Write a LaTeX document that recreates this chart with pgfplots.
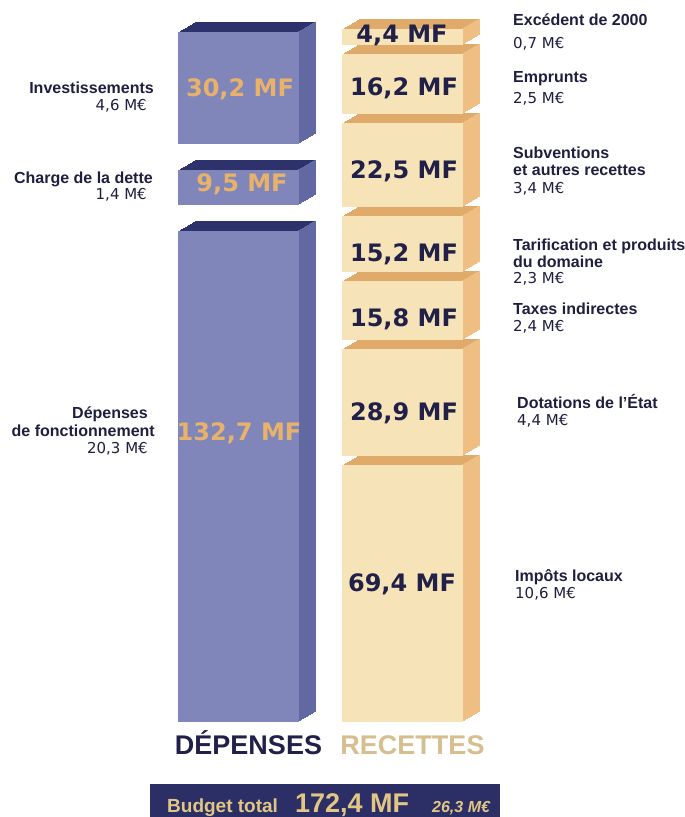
\documentclass[border=0pt]{standalone}
\usepackage{fontspec}
\usepackage{pgfplots}
\pgfplotsset{compat=1.18}
\setmainfont{Liberation Sans}
\newfontfamily\dejavu{DejaVu Sans}

\definecolor{depFront}{RGB}{128,134,186}
\definecolor{depTop}{RGB}{46,50,108}
\definecolor{depSide}{RGB}{98,104,162}
\definecolor{depValue}{RGB}{232,178,106}
\definecolor{recFront}{RGB}{246,228,184}
\definecolor{recTop}{RGB}{224,170,106}
\definecolor{recSide}{RGB}{238,190,130}
\definecolor{navy}{RGB}{32,32,72}
\definecolor{labtxt}{RGB}{30,30,62}
\definecolor{recLabel}{RGB}{214,190,142}
\definecolor{banner}{RGB}{44,46,102}
\definecolor{bannerTxt}{RGB}{226,198,132}

\pgfplotsset{
  budget/.style={
    scale only axis, width=685pt, height=703pt,
    anchor=south west,
    xmin=-1.4543, xmax=2.7226, ymin=0, ymax=190,
    ybar stacked, bar width=121pt,
    axis line style={draw=none}, ytick=\empty, xtick=\empty,
    major tick length=0pt,
    clip=false,
    spacer/.style={draw=none, fill=none},
  },
}

% values in MF, stacked bottom to top; "spacer" = empty gap between blocks
\newcommand\budgetstack{%
  % DEPENSES
  \addplot[depblock] coordinates {(0,132.7) (1,0)};  % Depenses de fonctionnement
  \addplot[spacer]   coordinates {(0,7.0) (1,0)};
  \addplot[depblock] coordinates {(0,9.5) (1,0)};    % Charge de la dette
  \addplot[spacer]   coordinates {(0,7.0) (1,0)};
  \addplot[depblock] coordinates {(0,30.2) (1,0)};   % Investissements
  % RECETTES
  \addplot[recblock] coordinates {(0,0) (1,69.4)};   % Impots locaux
  \addplot[spacer]   coordinates {(0,0) (1,2.5)};
  \addplot[recblock] coordinates {(0,0) (1,28.9)};   % Dotations de l'Etat
  \addplot[spacer]   coordinates {(0,0) (1,2.5)};
  \addplot[recblock] coordinates {(0,0) (1,15.8)};   % Taxes indirectes
  \addplot[spacer]   coordinates {(0,0) (1,2.5)};
  \addplot[recblock] coordinates {(0,0) (1,15.2)};   % Tarification
  \addplot[spacer]   coordinates {(0,0) (1,2.5)};
  \addplot[recblock] coordinates {(0,0) (1,22.5)};   % Subventions
  \addplot[spacer]   coordinates {(0,0) (1,2.5)};
  \addplot[recblock] coordinates {(0,0) (1,16.2)};   % Emprunts
  \addplot[spacer]   coordinates {(0,0) (1,2.5)};
  \addplot[recblock] coordinates {(0,0) (1,4.4)};    % Excedent de 2000
}

\begin{document}
\begin{tikzpicture}
\useasboundingbox (0pt,0pt) rectangle (685pt,817pt);

% 3D faces: copies shifted back, from back to front
\foreach \k in {10,9,...,1}{
  \pgfmathsetmacro\sx{17*\k/10}
  \pgfmathsetmacro\ay{95+10*\k/10}
  \pgfmathsetmacro\ss{60.5+\sx-1.15}
  \begin{axis}[budget, at={(0pt,\ay pt)},
     depblock/.style={fill=depTop, draw=none, /pgf/bar shift=\sx pt, /pgf/bar width=121pt},
     recblock/.style={fill=recTop, draw=none, /pgf/bar shift=\sx pt, /pgf/bar width=121pt}]
    \budgetstack
  \end{axis}
  \begin{axis}[budget, at={(0pt,\ay pt)},
     depblock/.style={fill=depSide, draw=none, /pgf/bar shift=\ss pt, /pgf/bar width=2.3pt},
     recblock/.style={fill=recSide, draw=none, /pgf/bar shift=\ss pt, /pgf/bar width=2.3pt}]
    \budgetstack
  \end{axis}
}

% front faces
\begin{axis}[budget, at={(0pt,95pt)},
   depblock/.style={fill=depFront, draw=none, /pgf/bar shift=0pt},
   recblock/.style={fill=recFront, draw=none, /pgf/bar shift=0pt},
   xtick={0,1},
   xticklabels={\textcolor{navy}{DÉPENSES},\textcolor{recLabel}{RECETTES}},
   xticklabel style={anchor=base, yshift=-33pt, xshift=10pt,
     font=\fontsize{27}{30}\selectfont\bfseries}]
  \budgetstack
\end{axis}

\tikzset{
  lab/.style={inner sep=0pt, font=\fontsize{16}{18}\selectfont\bfseries, text=labtxt},
  eur/.style={inner sep=0pt, font=\dejavu\fontsize{15}{17}\selectfont, text=labtxt},
  vald/.style={inner sep=0pt, anchor=base, font=\dejavu\fontsize{24}{26}\selectfont\bfseries, text=depValue},
  valr/.style={inner sep=0pt, anchor=base, font=\dejavu\fontsize{24}{26}\selectfont\bfseries, text=navy},
}

% left labels
\node[lab, anchor=base east] at (154pt,723pt) {Investissements};
\node[eur, anchor=base east] at (147pt,706pt) {4,6 M€};
\node[lab, anchor=base east] at (153pt,633pt) {Charge de la dette};
\node[eur, anchor=base east] at (147pt,617pt) {1,4 M€};
\node[lab, anchor=base east] at (148pt,398pt) {Dépenses};
\node[lab, anchor=base east] at (155pt,380pt) {de fonctionnement};
\node[eur, anchor=base east] at (148pt,363pt) {20,3 M€};

% right labels
\node[lab, anchor=base west] at (513pt,791pt) {Excédent de 2000};
\node[eur, anchor=base west] at (513pt,768pt) {0,7 M€};
\node[lab, anchor=base west] at (513pt,734pt) {Emprunts};
\node[eur, anchor=base west] at (513pt,713pt) {2,5 M€};
\node[lab, anchor=base west] at (513pt,658pt) {Subventions};
\node[lab, anchor=base west] at (513pt,641pt) {et autres recettes};
\node[eur, anchor=base west] at (513pt,623pt) {3,4 M€};
\node[lab, anchor=base west] at (513pt,566pt) {Tarification et produits};
\node[lab, anchor=base west] at (513pt,549pt) {du domaine};
\node[eur, anchor=base west] at (513pt,533pt) {2,3 M€};
\node[lab, anchor=base west] at (513pt,502pt) {Taxes indirectes};
\node[eur, anchor=base west] at (513pt,485pt) {2,4 M€};
\node[lab, anchor=base west] at (517pt,408pt) {Dotations de l'État};
\node[eur, anchor=base west] at (517pt,391pt) {4,4 M€};
\node[lab, anchor=base west] at (515pt,235pt) {Impôts locaux};
\node[eur, anchor=base west] at (515pt,218pt) {10,6 M€};

% values inside blocks
\node[vald] at (240pt,720pt) {30,2 MF};
\node[vald] at (242pt,625pt) {9,5 MF};
\node[vald] at (239pt,376pt) {132,7 MF};
\node[valr] at (402pt,774pt) {4,4 MF};
\node[valr] at (404pt,721pt) {16,2 MF};
\node[valr] at (404pt,638pt) {22,5 MF};
\node[valr] at (404pt,555pt) {15,2 MF};
\node[valr] at (404pt,490pt) {15,8 MF};
\node[valr] at (404pt,396pt) {28,9 MF};
\node[valr] at (402pt,225pt) {69,4 MF};

% bottom banner
\fill[banner] (150pt,0pt) rectangle (500pt,33pt);
\node[inner sep=0pt, anchor=base west, text=bannerTxt, font=\fontsize{19}{20}\selectfont\bfseries] at (167pt,5pt) {Budget total};
\node[inner sep=0pt, anchor=base west, text=bannerTxt, font=\fontsize{27}{28}\selectfont\bfseries] at (295pt,5pt) {172,4 MF};
\node[inner sep=0pt, anchor=base west, text=bannerTxt, font=\fontsize{16}{17}\selectfont\bfseries\itshape] at (432pt,5pt) {26,3 M€};
\end{tikzpicture}
\end{document}
